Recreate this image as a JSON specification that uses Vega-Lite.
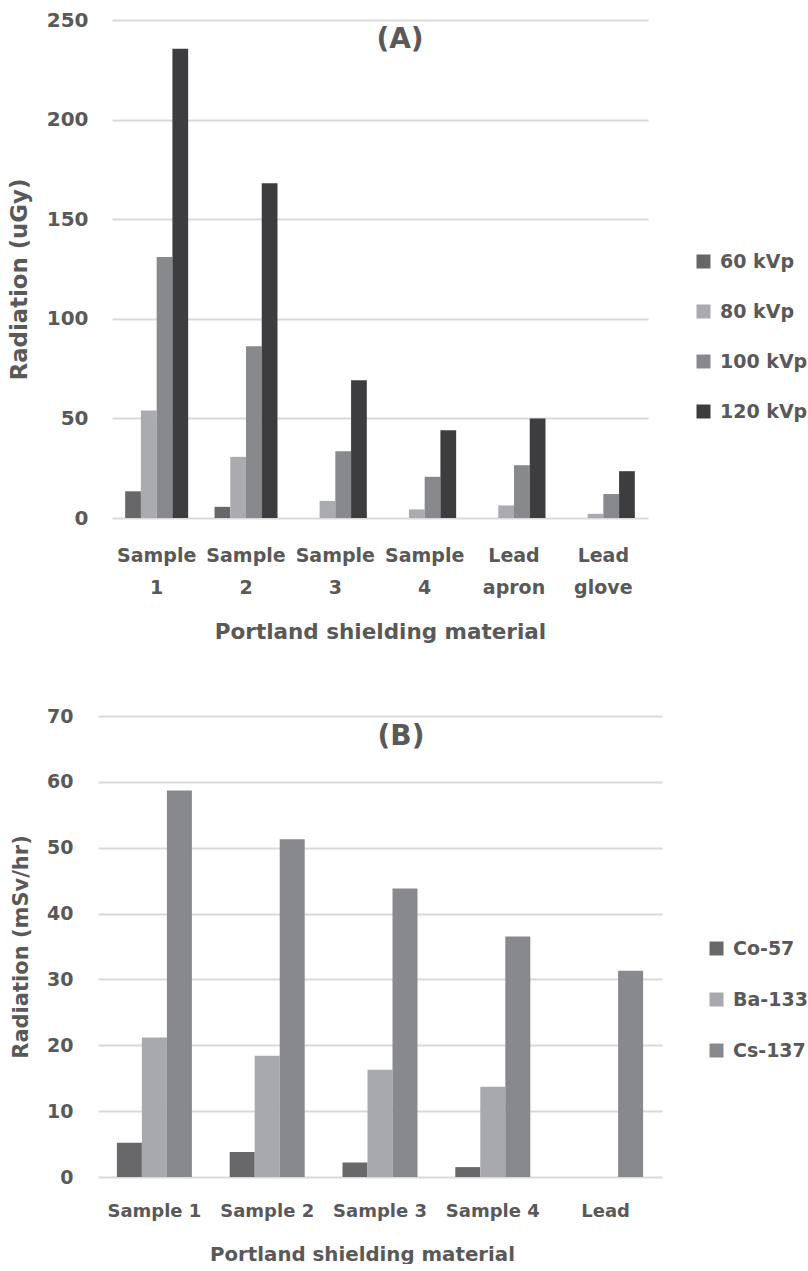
{
  "$schema": "https://vega.github.io/schema/vega-lite/v6.json",
  "padding": {"left": 8, "top": 10, "right": 0, "bottom": 0},
  "background": "#ffffff",
  "datasets": {
    "xray": [
      {"material": "Sample 1", "kvp": "60 kVp", "dose": 13.4},
      {"material": "Sample 1", "kvp": "80 kVp", "dose": 54.0},
      {"material": "Sample 1", "kvp": "100 kVp", "dose": 131.0},
      {"material": "Sample 1", "kvp": "120 kVp", "dose": 235.6},
      {"material": "Sample 2", "kvp": "60 kVp", "dose": 5.6},
      {"material": "Sample 2", "kvp": "80 kVp", "dose": 30.7},
      {"material": "Sample 2", "kvp": "100 kVp", "dose": 86.2},
      {"material": "Sample 2", "kvp": "120 kVp", "dose": 168.1},
      {"material": "Sample 3", "kvp": "60 kVp", "dose": 0},
      {"material": "Sample 3", "kvp": "80 kVp", "dose": 8.6},
      {"material": "Sample 3", "kvp": "100 kVp", "dose": 33.5},
      {"material": "Sample 3", "kvp": "120 kVp", "dose": 69.1},
      {"material": "Sample 4", "kvp": "60 kVp", "dose": 0},
      {"material": "Sample 4", "kvp": "80 kVp", "dose": 4.3},
      {"material": "Sample 4", "kvp": "100 kVp", "dose": 20.7},
      {"material": "Sample 4", "kvp": "120 kVp", "dose": 44.0},
      {"material": "Lead apron", "kvp": "60 kVp", "dose": 0},
      {"material": "Lead apron", "kvp": "80 kVp", "dose": 6.3},
      {"material": "Lead apron", "kvp": "100 kVp", "dose": 26.5},
      {"material": "Lead apron", "kvp": "120 kVp", "dose": 49.9},
      {"material": "Lead glove", "kvp": "60 kVp", "dose": 0},
      {"material": "Lead glove", "kvp": "80 kVp", "dose": 2.1},
      {"material": "Lead glove", "kvp": "100 kVp", "dose": 12.1},
      {"material": "Lead glove", "kvp": "120 kVp", "dose": 23.5}
    ],
    "gamma": [
      {"material": "Sample 1", "source": "Co-57", "rate": 5.2},
      {"material": "Sample 1", "source": "Ba-133", "rate": 21.2},
      {"material": "Sample 1", "source": "Cs-137", "rate": 58.7},
      {"material": "Sample 2", "source": "Co-57", "rate": 3.8},
      {"material": "Sample 2", "source": "Ba-133", "rate": 18.4},
      {"material": "Sample 2", "source": "Cs-137", "rate": 51.3},
      {"material": "Sample 3", "source": "Co-57", "rate": 2.2},
      {"material": "Sample 3", "source": "Ba-133", "rate": 16.3},
      {"material": "Sample 3", "source": "Cs-137", "rate": 43.8},
      {"material": "Sample 4", "source": "Co-57", "rate": 1.5},
      {"material": "Sample 4", "source": "Ba-133", "rate": 13.7},
      {"material": "Sample 4", "source": "Cs-137", "rate": 36.5},
      {"material": "Lead", "source": "Co-57", "rate": 0},
      {"material": "Lead", "source": "Ba-133", "rate": 0},
      {"material": "Lead", "source": "Cs-137", "rate": 31.3}
    ]
  },
  "config": {
    "font": "DejaVu Sans",
    "view": {"stroke": null},
    "axis": {
      "labelFont": "DejaVu Sans",
      "labelFontWeight": "bold",
      "labelColor": "#595959",
      "titleFont": "DejaVu Sans",
      "titleFontWeight": "bold",
      "titleColor": "#595959",
      "ticks": false,
      "tickSize": 0,
      "domain": false,
      "gridColor": "#d9d9d9",
      "gridWidth": 2
    },
    "axisX": {"grid": false, "labelAngle": 0, "labelLimit": 0},
    "legend": {
      "title": null,
      "orient": "none",
      "symbolType": "square",
      "symbolSize": 196,
      "symbolStrokeWidth": 0,
      "labelFont": "DejaVu Sans",
      "labelFontWeight": "bold",
      "labelFontSize": 19,
      "labelColor": "#595959",
      "labelOffset": 7,
      "rowPadding": 30,
      "padding": 0
    },
    "title": {
      "font": "DejaVu Sans",
      "fontWeight": "bold",
      "fontSize": 28,
      "color": "#595959",
      "anchor": "middle",
      "frame": "group",
      "baseline": "alphabetic"
    }
  },
  "spacing": 64,
  "vconcat": [
    {
      "width": 550,
      "height": 498,
      "title": {"text": "(A)", "offset": -44, "dx": 27},
      "data": {"name": "xray"},
      "mark": {"type": "bar"},
      "encoding": {
        "x": {
          "field": "material",
          "type": "nominal",
          "sort": ["Sample 1", "Sample 2", "Sample 3", "Sample 4", "Lead apron", "Lead glove"],
          "scale": {"range": [14, 550], "paddingInner": 0.295, "paddingOuter": 0.1475},
          "axis": {
            "title": "Portland shielding material",
            "labelExpr": "split(datum.label, ' ')",
            "labelFontSize": 19,
            "labelLineHeight": 32,
            "labelPadding": 28,
            "titleFontSize": 21.5,
            "titlePadding": 24
          }
        },
        "xOffset": {
          "field": "kvp",
          "type": "nominal",
          "sort": ["60 kVp", "80 kVp", "100 kVp", "120 kVp"],
          "scale": {"paddingInner": 0, "paddingOuter": 0}
        },
        "y": {
          "field": "dose",
          "type": "quantitative",
          "scale": {"domain": [0, 250], "nice": false},
          "axis": {
            "title": "Radiation (uGy)",
            "values": [0, 50, 100, 150, 200, 250],
            "labelFontSize": 20,
            "labelPadding": 10,
            "titleFontSize": 22.8,
            "titlePadding": 15,
            "titleY": 259
          }
        },
        "color": {
          "field": "kvp",
          "type": "nominal",
          "scale": {
            "domain": ["60 kVp", "80 kVp", "100 kVp", "120 kVp"],
            "range": ["#67676a", "#aaabae", "#88898c", "#3d3d3f"]
          },
          "legend": {"legendX": 596, "legendY": 232}
        }
      }
    },
    {
      "width": 564,
      "height": 461,
      "title": {"text": "(B)", "offset": -44, "dx": 21},
      "data": {"name": "gamma"},
      "mark": {"type": "bar"},
      "encoding": {
        "x": {
          "field": "material",
          "type": "nominal",
          "sort": ["Sample 1", "Sample 2", "Sample 3", "Sample 4", "Lead"],
          "scale": {"paddingInner": 0.335, "paddingOuter": 0.1675},
          "axis": {
            "title": "Portland shielding material",
            "labelFontSize": 18,
            "labelPadding": 25,
            "titleFontSize": 19.8,
            "titlePadding": 24,
            "titleX": 264
          }
        },
        "xOffset": {
          "field": "source",
          "type": "nominal",
          "sort": ["Co-57", "Ba-133", "Cs-137"],
          "scale": {"paddingInner": 0, "paddingOuter": 0}
        },
        "y": {
          "field": "rate",
          "type": "quantitative",
          "scale": {"domain": [0, 70], "nice": false},
          "axis": {
            "title": "Radiation (mSv/hr)",
            "values": [0, 10, 20, 30, 40, 50, 60, 70],
            "labelFontSize": 19,
            "labelPadding": 25,
            "titleFontSize": 21,
            "titlePadding": 15
          }
        },
        "color": {
          "field": "source",
          "type": "nominal",
          "scale": {
            "domain": ["Co-57", "Ba-133", "Cs-137"],
            "range": ["#68686b", "#a8a9ac", "#88898c"]
          },
          "legend": {"legendX": 609, "legendY": 223, "rowPadding": 31}
        }
      }
    }
  ],
  "resolve": {
    "scale": {"color": "independent", "x": "independent", "y": "independent", "xOffset": "independent"},
    "legend": {"color": "independent"}
  }
}
